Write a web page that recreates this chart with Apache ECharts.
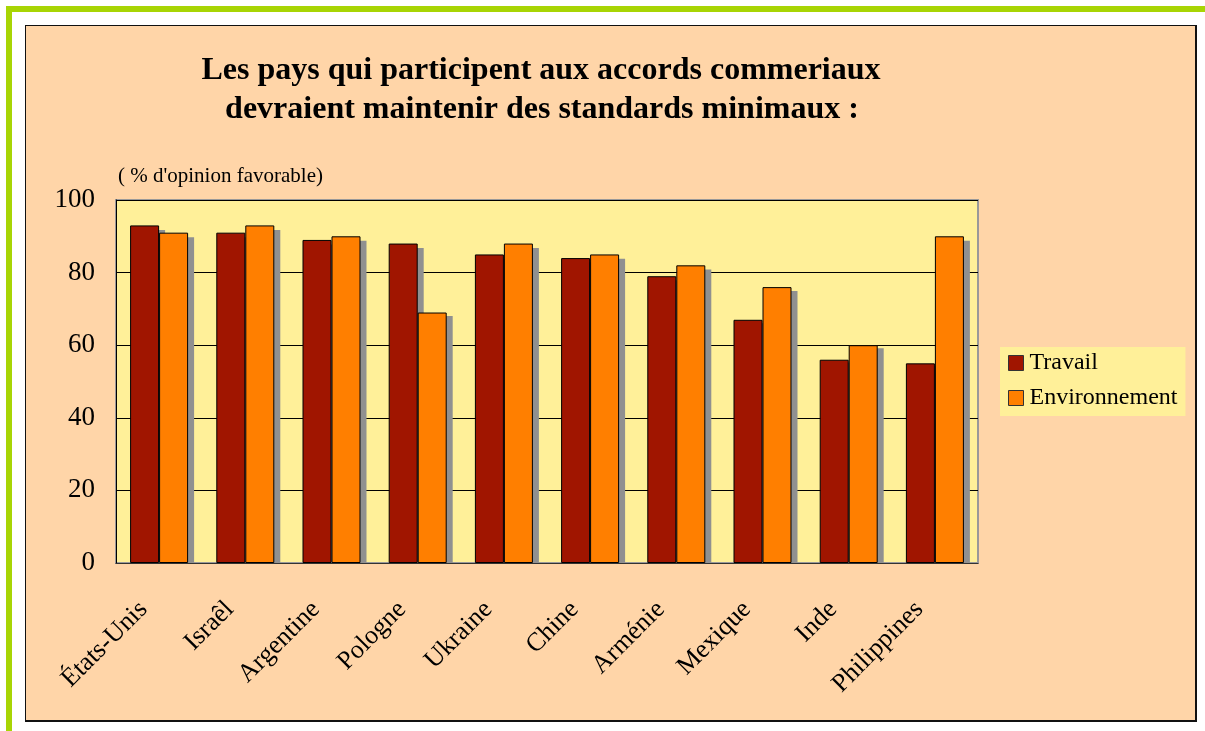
<!DOCTYPE html>
<html>
<head>
<meta charset="utf-8">
<script src="https://cdn.jsdelivr.net/npm/echarts@6/dist/echarts.min.js"></script>
<style>
  html, body { margin: 0; padding: 0; background: #ffffff; }
  #wrap { position: relative; width: 1205px; height: 731px; overflow: hidden; }
  #greenTop { position: absolute; left: 6px; top: 6px; width: 1199px; height: 6px; background: #a8d504; }
  #greenLeft { position: absolute; left: 6px; top: 6px; width: 6px; height: 725px; background: #a8d504; }
  #panel { position: absolute; left: 25px; top: 25px; width: 1169px; height: 694px;
           background: #ffd5a8; border: 1px solid #111; border-right-width: 2px; border-bottom-width: 2px; }
  #chart { position: absolute; left: 0; top: 0; width: 1205px; height: 731px; }
</style>
</head>
<body>
<div id="wrap">
  <div id="greenTop"></div>
  <div id="greenLeft"></div>
  <div id="panel"></div>
  <div id="chart"></div>
</div>
<script>
  // données
  const pays = ['États-Unis', 'Israêl', 'Argentine', 'Pologne', 'Ukraine', 'Chine', 'Arménie', 'Mexique', 'Inde', 'Philippines'];
  const travail = [93, 91, 89, 88, 85, 84, 79, 67, 56, 55];
  const environnement = [91, 93, 90, 69, 88, 85, 82, 76, 60, 90];
  const yTicks = [0, 20, 40, 60, 80, 100];

  const serif = '"Liberation Serif", "DejaVu Serif", serif';

  let myChart = echarts.init(document.getElementById('chart'));

  // ombre portée : même données, dans une grille décalée de 6px / 5px
  const ombre = function (name, data) {
    return {
      name: name,
      type: 'bar',
      xAxisIndex: 1,
      yAxisIndex: 1,
      barWidth: 29,
      barGap: '0%',
      z: 1,
      silent: true,
      data: data,
      itemStyle: { color: '#909090' },
      emphasis: { disabled: true }
    };
  };

  let option = {
    animation: false,
    textStyle: { fontFamily: serif },
    graphic: [
      {
        type: 'text', x: 541, y: 71,
        style: {
          text: 'Les pays qui participent aux accords commeriaux',
          font: 'bold 32px ' + serif, fill: '#000', align: 'center', verticalAlign: 'middle'
        }
      },
      {
        type: 'text', x: 542, y: 110,
        style: {
          text: 'devraient maintenir des standards minimaux :',
          font: 'bold 32px ' + serif, fill: '#000', align: 'center', verticalAlign: 'middle'
        }
      },
      {
        type: 'text', x: 118, y: 176,
        style: {
          text: "( % d'opinion favorable)",
          font: '21px ' + serif, fill: '#000', align: 'left', verticalAlign: 'middle'
        }
      }
    ],
    legend: {
      orient: 'vertical',
      left: 1000,
      top: 347,
      backgroundColor: '#fff099',
      padding: [4, 8, 6, 8],
      itemWidth: 15,
      itemHeight: 15,
      itemGap: 11,
      icon: 'rect',
      textStyle: { fontFamily: serif, fontSize: 24, color: '#000', padding: [0, 0, 0, 1] },
      itemStyle: { borderColor: '#333', borderWidth: 1 },
      data: ['Travail', 'Environnement']
    },
    grid: [
      {
        left: 116,
        top: 200,
        right: 227,
        bottom: 168,
        show: true,
        backgroundColor: '#fff099',
        borderColor: '#999',
        borderWidth: 2
      },
      { left: 122, top: 205, right: 221, bottom: 168, show: false }
    ],
    xAxis: [
      {
        type: 'category',
        data: pays,
        boundaryGap: true,
        z: 3,
        axisLine: { lineStyle: { color: '#333', width: 1 } },
        axisTick: { inside: true, length: 6, lineStyle: { color: '#333' } },
        axisLabel: {
          rotate: 45,
          interval: 0,
          margin: 27,
          fontSize: 26,
          fontFamily: serif,
          color: '#000',
          padding: [0, 22, 0, 0]
        }
      },
      { type: 'category', gridIndex: 1, data: pays, show: false }
    ],
    yAxis: [
      {
        type: 'value',
        min: yTicks[0],
        max: yTicks[yTicks.length - 1],
        interval: 20,
        axisLine: { show: true, lineStyle: { color: '#000', width: 1 } },
        axisTick: { show: true, inside: true, length: 6, lineStyle: { color: '#000' } },
        splitLine: { show: true, lineStyle: { color: '#000', width: 1 } },
        axisLabel: { margin: 21, fontSize: 27, fontFamily: serif, color: '#000' }
      },
      { type: 'value', gridIndex: 1, min: 0, max: 100, show: false, splitLine: { show: false } }
    ],
    series: [
      ombre('ombreTravail', travail),
      ombre('ombreEnvironnement', environnement),
      {
        name: 'Travail',
        type: 'bar',
        barWidth: 29,
        barGap: '0%',
        z: 2,
        data: travail,
        itemStyle: { color: '#a01500', borderColor: '#000', borderWidth: 1 },
        emphasis: { disabled: true }
      },
      {
        name: 'Environnement',
        type: 'bar',
        barWidth: 29,
        barGap: '0%',
        z: 2,
        data: environnement,
        itemStyle: { color: '#ff7f00', borderColor: '#000', borderWidth: 1 },
        emphasis: { disabled: true }
      }
    ]
  };

  myChart.setOption(option);
  window.addEventListener('resize', function () { myChart.resize(); });
</script>
</body>
</html>
